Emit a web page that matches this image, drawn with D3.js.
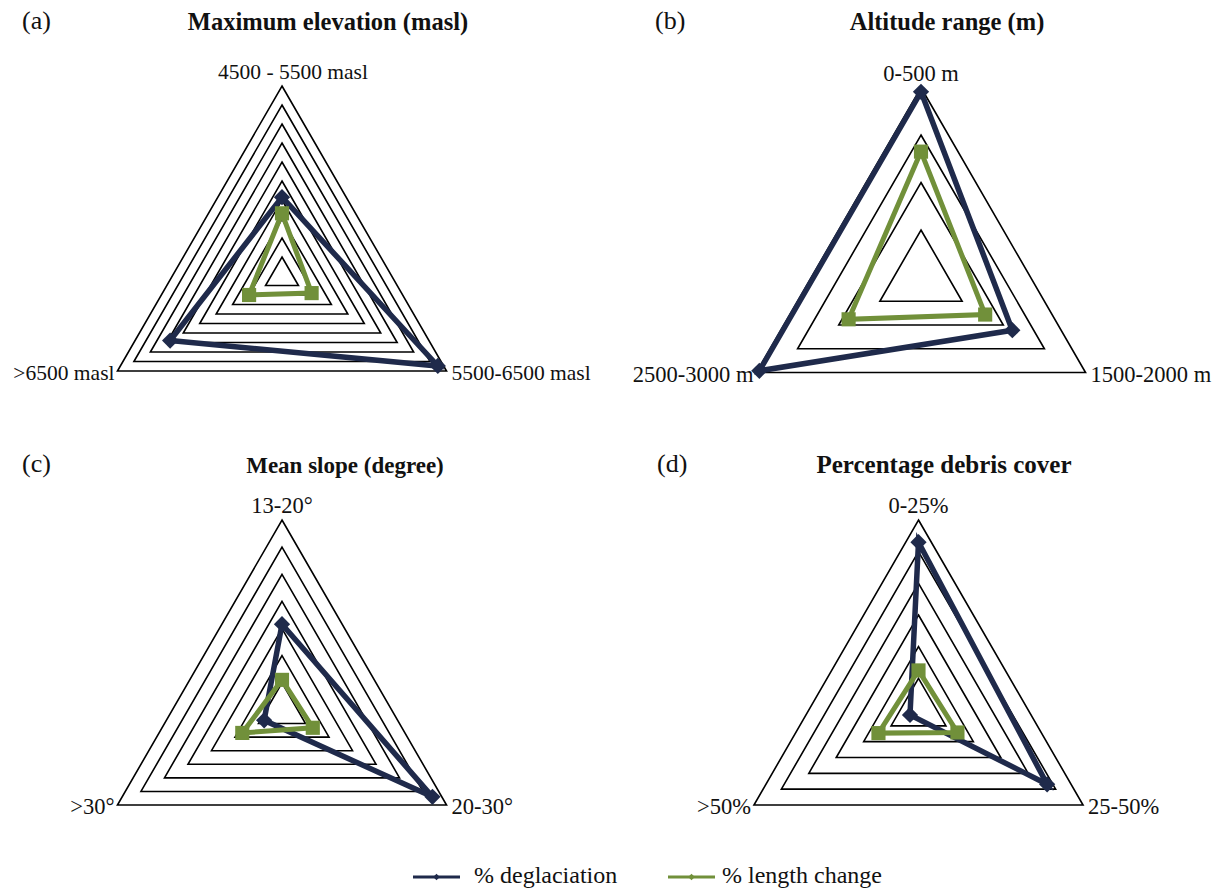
<!DOCTYPE html>
<html>
<head>
<meta charset="utf-8">
<script src="https://cdn.jsdelivr.net/npm/d3@7"></script>
<style>
  body { margin: 0; background: #fff; }
  text { font-family: "Liberation Serif", "Times New Roman", serif; fill: #111; }
</style>
</head>
<body>
<svg id="chart" width="1222" height="888"></svg>
<script>
// panel texts
const panelLetters = ["(a)", "(b)", "(c)", "(d)"];
const panelTitles = ["Maximum elevation (masl)", "Altitude range (m)", "Mean slope (degree)", "Percentage debris cover"];

// categories, clockwise from the top
const categoriesA = ["4500 - 5500 masl", "5500-6500 masl", ">6500 masl"];
const categoriesB = ["0-500 m", "1500-2000 m", "2500-3000 m"];
const categoriesC = ["13-20°", "20-30°", ">30°"];
const categoriesD = ["0-25%", "25-50%", ">50%"];

// number of grid rings (axis max, one unit per ring)
const ringCounts = [10, 4, 7, 6];

// % deglaciation
const deglaciationA = [4.15, 9.47, 6.8];
const deglaciationB = [3.91, 2.22, 3.93];
const deglaciationC = [3.16, 6.4, 0.76];
const deglaciationD = [5.3, 4.69, 0.31];

// % length change
const lengthChangeA = [3.3, 1.8, 2.0];
const lengthChangeB = [2.65, 1.56, 1.76];
const lengthChangeC = [1.11, 1.31, 1.69];
const lengthChangeD = [1.25, 1.42, 1.46];

const legendLabels = ["% deglaciation", "% length change"];

const panels = [
  { cats: categoriesA, degl: deglaciationA, len: lengthChangeA },
  { cats: categoriesB, degl: deglaciationB, len: lengthChangeB },
  { cats: categoriesC, degl: deglaciationC, len: lengthChangeC },
  { cats: categoriesD, degl: deglaciationD, len: lengthChangeD }
].map((p, i) => ({ ...p, letter: panelLetters[i], title: panelTitles[i], rings: ringCounts[i] }));

// layout
const centers = [[282, 276], [921, 277.5], [282, 710], [918.5, 710]];
const titleX = [328, 947, 345, 944];
const titleY = [30, 30, 473, 473];
const titleSizes = [24.5, 24.5, 23, 25];
const letterPos = [[22, 29], [655, 29], [22, 472], [657, 472]];
const labelSizes = [21.5, 22.5, 22.5, 22.5];
const R = 190;

const darkColour = "#1f2a4b";
const greenColour = "#71903a";
const serif = "'Liberation Serif', 'Times New Roman', serif";

const svg = d3.select("#chart");

const angle = i => i * 2 * Math.PI / 3;   // 0 = up, clockwise

panels.forEach((p, pi) => {
  const [cx, cy] = centers[pi];
  const r = d3.scaleLinear().domain([0, p.rings]).range([0, R]);

  const g = svg.append("g")
    .attr("class", "panel")
    .attr("transform", `translate(${cx},${cy})`);

  const radial = d3.lineRadial()
    .curve(d3.curveLinearClosed)
    .angle((d, i) => angle(i))
    .radius(d => r(d));

  // grid rings
  g.append("g").attr("class", "grid")
    .selectAll("path")
    .data(d3.range(1, p.rings + 1))
    .join("path")
    .attr("fill", "none")
    .attr("stroke", "#000")
    .attr("stroke-width", 1.6)
    .attr("d", k => radial([k, k, k]));

  // series
  const series = [
    { values: p.degl, colour: darkColour, size: 132, rotate: 45, width: 5.5 },
    { values: p.len, colour: greenColour, size: 200, rotate: 0, width: 5 }
  ];

  series.forEach(s => {
    const sg = g.append("g").attr("class", "series");
    sg.append("path")
      .attr("fill", "none")
      .attr("stroke", s.colour)
      .attr("stroke-width", s.width)
      .attr("stroke-linejoin", "miter")
      .attr("d", radial(s.values));
    sg.selectAll("path.marker")
      .data(s.values)
      .join("path")
      .attr("class", "marker")
      .attr("fill", s.colour)
      .attr("transform", (d, i) => {
        const a = angle(i) - Math.PI / 2;
        return `translate(${r(d) * Math.cos(a)},${r(d) * Math.sin(a)}) rotate(${s.rotate})`;
      })
      .attr("d", d3.symbol(d3.symbolSquare, s.size));
  });

  // category labels
  const labelOffsets = [
    { dx: pi === 0 ? 11 : 0, dy: -7, anchor: "middle" },
    { dx: 5, dy: 9, anchor: "start" },
    { dx: -3, dy: 9, anchor: "end" }
  ];
  g.append("g").attr("class", "labels")
    .selectAll("text")
    .data(p.cats)
    .join("text")
    .attr("font-family", serif)
    .attr("font-size", labelSizes[pi])
    .attr("text-anchor", (d, i) => labelOffsets[i].anchor)
    .attr("x", (d, i) => R * Math.cos(angle(i) - Math.PI / 2) + labelOffsets[i].dx)
    .attr("y", (d, i) => R * Math.sin(angle(i) - Math.PI / 2) + labelOffsets[i].dy)
    .text(d => d);

  // title and letter
  svg.append("text")
    .attr("x", titleX[pi])
    .attr("y", titleY[pi])
    .attr("text-anchor", "middle")
    .attr("font-family", serif)
    .attr("font-size", titleSizes[pi])
    .attr("font-weight", "bold")
    .text(p.title);

  svg.append("text")
    .attr("x", letterPos[pi][0])
    .attr("y", letterPos[pi][1])
    .attr("font-family", serif)
    .attr("font-size", 26)
    .text(p.letter);
});

// legend
const legendItems = [
  { label: legendLabels[0], colour: darkColour, x0: 413, x1: 460, tx: 474 },
  { label: legendLabels[1], colour: greenColour, x0: 668, x1: 715, tx: 722 }
];
const legend = svg.append("g").attr("class", "legend");
legendItems.forEach(item => {
  legend.append("line")
    .attr("x1", item.x0).attr("x2", item.x1)
    .attr("y1", 877).attr("y2", 877)
    .attr("stroke", item.colour)
    .attr("stroke-width", 3);
  legend.append("path")
    .attr("fill", item.colour)
    .attr("transform", `translate(${(item.x0 + item.x1) / 2},877) rotate(45)`)
    .attr("d", d3.symbol(d3.symbolSquare, 22));
  legend.append("text")
    .attr("x", item.tx)
    .attr("y", 882.5)
    .attr("font-family", serif)
    .attr("font-size", 24)
    .text(item.label);
});
</script>
</body>
</html>
